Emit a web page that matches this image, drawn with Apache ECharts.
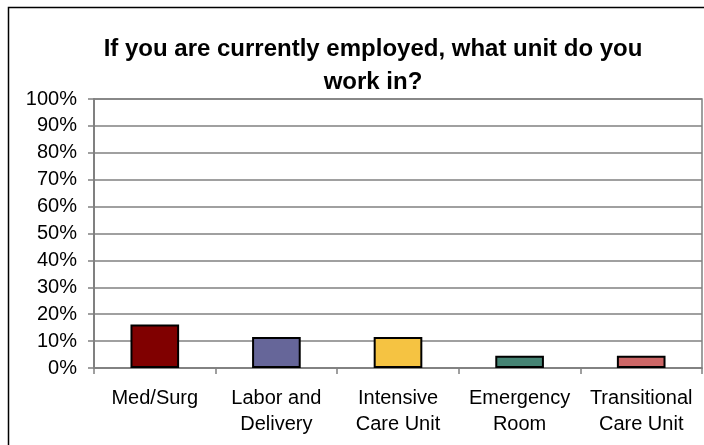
<!DOCTYPE html>
<html>
<head>
<meta charset="utf-8">
<script src="https://cdn.jsdelivr.net/npm/echarts@6/dist/echarts.min.js"></script>
<style>
html,body{margin:0;padding:0;background:#fff;}
#c{width:704px;height:445px;}
</style>
</head>
<body>
<div id="c"></div>
<script>
const titleText = "If you are currently employed, what unit do you\nwork in?";
const categories = ["Med/Surg", "Labor and\nDelivery", "Intensive\nCare Unit", "Emergency\nRoom", "Transitional\nCare Unit"];
const values = [0.162, 0.115, 0.115, 0.046, 0.046];
const barColors = ["#800000", "#666699", "#F5C342", "#458474", "#CC6666"];
const yTicks = [0, 0.1, 0.2, 0.3, 0.4, 0.5, 0.6, 0.7, 0.8, 0.9, 1.0];

const chart = echarts.init(document.getElementById('c'), null, {renderer: 'canvas'});
chart.setOption({
  animation: false,
  backgroundColor: '#ffffff',
  graphic: [{
    type: 'rect', silent: true, z: -1,
    shape: {x: 8.5, y: 7.5, width: 800, height: 500},
    style: {fill: 'none', stroke: '#000', lineWidth: 1.5}
  }],
  title: {
    text: titleText,
    left: 368, top: 28, textAlign: 'center',
    textStyle: {fontFamily: 'Liberation Sans, Arial, sans-serif', fontWeight: 'bold', fontSize: 24, lineHeight: 33, color: '#000'}
  },
  grid: {left: 94, top: 99, right: 2, bottom: 77, show: true, borderColor: '#808080', borderWidth: 1.5, containLabel: false},
  xAxis: {
    type: 'category',
    data: categories,
    axisLine: {lineStyle: {color: '#808080', width: 1.5}},
    axisTick: {show: true, length: 6, inside: false, lineStyle: {color: '#808080', width: 1.5}},
    axisLabel: {color: '#000', fontFamily: 'Liberation Sans, Arial, sans-serif', fontSize: 20, lineHeight: 26, margin: 17, interval: 0},
    splitLine: {show: false}
  },
  yAxis: {
    type: 'value',
    min: 0, max: 1, interval: 0.1,
    axisLine: {show: true, lineStyle: {color: '#808080', width: 2}},
    axisTick: {show: true, length: 6, lineStyle: {color: '#808080', width: 1.5}},
    axisLabel: {color: '#000', fontFamily: 'Liberation Sans, Arial, sans-serif', fontSize: 20, margin: 17,
      formatter: v => Math.round(v * 100) + '%'},
    splitLine: {show: true, lineStyle: {color: '#808080', width: 1.5}}
  },
  series: [{
    type: 'bar',
    barWidth: '40%',
    data: values.map((v, i) => ({value: v, itemStyle: {color: barColors[i]}})),
    itemStyle: {borderColor: '#000', borderWidth: 2}
  }]
});
</script>
</body>
</html>
